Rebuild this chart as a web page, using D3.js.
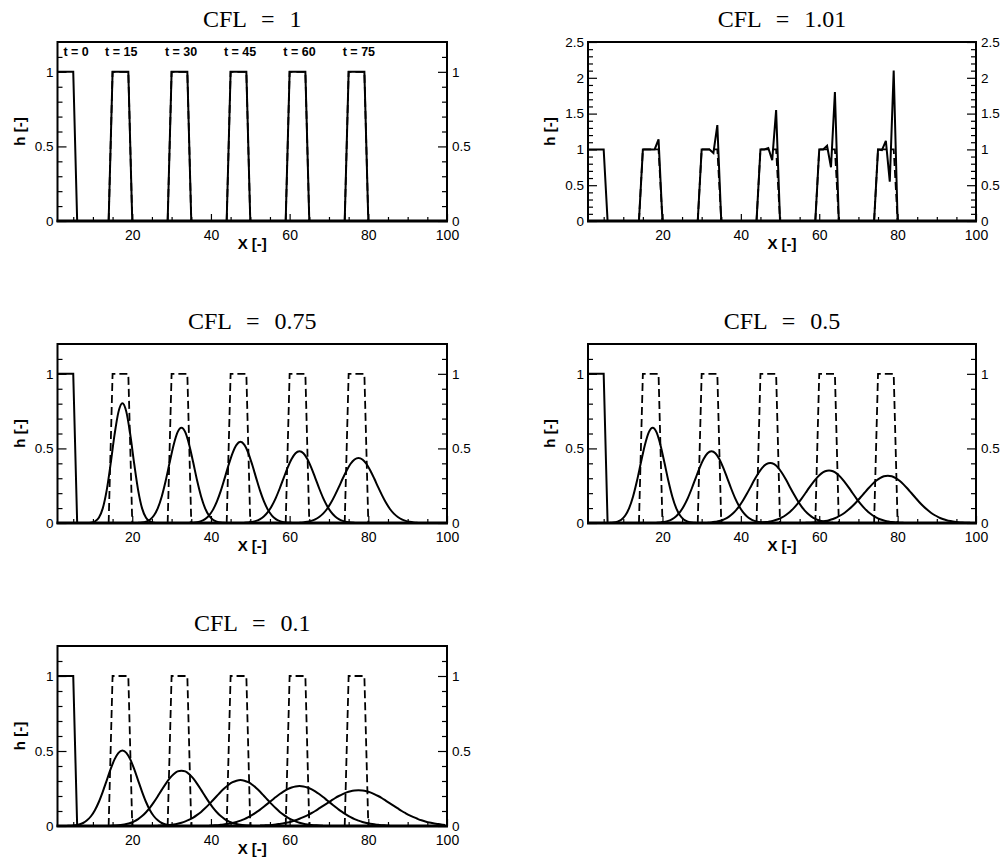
<!DOCTYPE html>
<html><head><meta charset="utf-8">
<script src="https://cdn.jsdelivr.net/npm/d3@7"></script>
<style>body{margin:0;background:#fff}</style>
</head><body>
<svg id="c" width="1005" height="867"></svg>
<script>
// ---------------- data ----------------
const cflLabels = ["CFL = 1", "CFL = 1.01", "CFL = 0.75", "CFL = 0.5", "CFL = 0.1"];
const timeLabels = ["t = 0", "t = 15", "t = 30", "t = 45", "t = 60", "t = 75"];
const timeLabelX = [2.5, 13.1, 28.3, 43.3, 58.4, 73.5];
const xTicksMajor = [20, 40, 60, 80, 100];
const xTicksMinor = [5, 10, 15, 25, 30, 35, 45, 50, 55, 65, 70, 75, 85, 90, 95];
const yTicksMajorSmall = [0, 0.5, 1];
const yTicksMinorSmall = [0.1, 0.2, 0.3, 0.4, 0.6, 0.7, 0.8, 0.9, 1.1];
const yTicksMajorBig = [0, 0.5, 1, 1.5, 2, 2.5];
const yTicksMinorBig = [0.1,0.2,0.3,0.4,0.6,0.7,0.8,0.9,1.1,1.2,1.3,1.4,1.6,1.7,1.8,1.9,2.1,2.2,2.3,2.4];

// initial condition (t = 0)
const initX = [1, 5, 6];
const initH = [1, 1, 0];

// exact solution pulses t = 15 .. 75
const exactX = [[14, 15, 19, 20], [29, 30, 34, 35], [44, 45, 49, 50], [59, 60, 64, 65], [74, 75, 79, 80]];
const exactH = [0, 1, 1, 0];

// CFL = 1.01 (x start of each pulse, unit spacing)
const cfl101Start = [14, 29, 44, 59, 74];
const cfl101_t15 = [0, 1, 1, 1, 1.0, 1.14, 0];
const cfl101_t30 = [0, 1, 1, 1, 0.95, 1.34, 0];
const cfl101_t45 = [0, 1, 1, 1.02, 0.85, 1.55, 0];
const cfl101_t60 = [0, 1, 1, 1.05, 0.75, 1.80, 0];
const cfl101_t75 = [0, 1, 0.99, 1.12, 0.55, 2.10, 0];

// CFL = 0.75 (x start of each curve, unit spacing)
const cfl075Start = [8.5, 21.5, 34.5, 48.5, 62.5];
const cfl075_t15 = [0.000,0.002,0.010,0.035,0.098,0.219,0.396,0.592,0.745,0.803,0.745,0.592,0.396,0.219,0.098,0.035,0.010,0.002,0.000];
const cfl075_t30 = [0.001,0.003,0.009,0.022,0.050,0.100,0.178,0.283,0.405,0.522,0.608,0.639,0.608,0.522,0.405,0.283,0.178,0.100,0.050,0.022,0.009,0.003,0.001];
const cfl075_t45 = [0.001,0.002,0.006,0.013,0.026,0.050,0.088,0.143,0.215,0.301,0.390,0.469,0.524,0.544,0.524,0.469,0.390,0.301,0.215,0.143,0.088,0.050,0.026,0.013,0.006,0.002,0.001];
const cfl075_t60 = [0.002,0.003,0.007,0.014,0.026,0.045,0.074,0.116,0.169,0.233,0.303,0.371,0.429,0.468,0.481,0.468,0.429,0.371,0.303,0.233,0.169,0.116,0.074,0.045,0.026,0.014,0.007,0.003,0.002];
const cfl075_t75 = [0.002,0.004,0.008,0.014,0.024,0.040,0.063,0.094,0.135,0.185,0.240,0.298,0.352,0.397,0.426,0.436,0.426,0.397,0.352,0.298,0.240,0.185,0.135,0.094,0.063,0.040,0.024,0.014,0.008,0.004,0.002];

// CFL = 0.5
const cfl05Start = [6.5, 18.5, 31.5, 43.5, 56.5];
const cfl05_t15 = [0.001,0.003,0.009,0.022,0.050,0.100,0.178,0.283,0.405,0.522,0.608,0.639,0.608,0.522,0.405,0.283,0.178,0.100,0.050,0.022,0.009,0.003,0.001];
const cfl05_t30 = [0.002,0.003,0.007,0.014,0.026,0.045,0.074,0.116,0.169,0.233,0.303,0.371,0.429,0.468,0.481,0.468,0.429,0.371,0.303,0.233,0.169,0.116,0.074,0.045,0.026,0.014,0.007,0.003,0.002];
const cfl05_t45 = [0.002,0.004,0.008,0.013,0.022,0.034,0.053,0.078,0.110,0.149,0.194,0.242,0.291,0.335,0.371,0.394,0.402,0.394,0.371,0.335,0.291,0.242,0.194,0.149,0.110,0.078,0.053,0.034,0.022,0.013,0.008,0.004,0.002];
const cfl05_t60 = [0.001,0.002,0.004,0.006,0.011,0.017,0.025,0.037,0.054,0.074,0.100,0.130,0.164,0.201,0.239,0.274,0.306,0.331,0.347,0.352,0.347,0.331,0.306,0.274,0.239,0.201,0.164,0.130,0.100,0.074,0.054,0.037,0.025,0.017,0.011,0.006,0.004,0.002,0.001];
const cfl05_t75 = [0.001,0.002,0.003,0.005,0.008,0.013,0.019,0.027,0.038,0.052,0.069,0.090,0.114,0.141,0.171,0.201,0.231,0.259,0.283,0.301,0.313,0.317,0.313,0.301,0.283,0.259,0.231,0.201,0.171,0.141,0.114,0.090,0.069,0.052,0.038,0.027,0.019,0.013,0.008,0.005,0.003,0.002,0.001];

// CFL = 0.1
const cfl01Start = [3.5, 14.5, 26.5, 39.5, 52.5];
const cfl01_t15 = [0.001,0.002,0.005,0.010,0.020,0.038,0.065,0.105,0.160,0.228,0.303,0.379,0.444,0.488,0.503,0.488,0.444,0.379,0.303,0.228,0.160,0.105,0.065,0.038,0.020,0.010,0.005,0.002,0.001];
const cfl01_t30 = [0.001,0.003,0.005,0.008,0.013,0.020,0.031,0.046,0.066,0.092,0.123,0.159,0.199,0.241,0.281,0.317,0.345,0.364,0.369,0.364,0.345,0.317,0.281,0.241,0.199,0.159,0.123,0.092,0.066,0.046,0.031,0.020,0.013,0.008,0.005,0.003,0.001];
const cfl01_t45 = [0.002,0.003,0.005,0.007,0.010,0.015,0.022,0.031,0.042,0.056,0.074,0.094,0.118,0.144,0.172,0.200,0.228,0.253,0.275,0.292,0.302,0.306,0.302,0.292,0.275,0.253,0.228,0.200,0.172,0.144,0.118,0.094,0.074,0.056,0.042,0.031,0.022,0.015,0.010,0.007,0.005,0.003,0.002];
const cfl01_t60 = [0.002,0.004,0.005,0.008,0.011,0.015,0.020,0.027,0.036,0.046,0.059,0.074,0.091,0.109,0.130,0.151,0.172,0.193,0.213,0.231,0.246,0.257,0.264,0.266,0.264,0.257,0.246,0.231,0.213,0.193,0.172,0.151,0.130,0.109,0.091,0.074,0.059,0.046,0.036,0.027,0.020,0.015,0.011,0.008,0.005,0.004,0.002];
const cfl01_t75 = [0.003,0.004,0.005,0.007,0.010,0.014,0.018,0.023,0.030,0.038,0.048,0.059,0.071,0.085,0.100,0.117,0.134,0.151,0.168,0.185,0.200,0.213,0.224,0.232,0.237,0.239,0.237,0.232,0.224,0.213,0.200,0.185,0.168,0.151,0.134,0.117,0.100,0.085,0.071,0.059,0.048,0.038,0.030,0.023,0.018,0.014,0.010,0.007];

// ---------------- drawing ----------------
const toPts = (start, vals) => vals.map((h, i) => [start + i, h]);
const zip = (xs, hs) => xs.map((x, i) => [x, hs[i]]);

const panels = [
  {title: cflLabels[0], x0: 57.5, x1: 447, y0: 42, y1: 221, yMax: 1.2, big: false, labels: true,
   solidLinear: exactX.map(xs => zip(xs, exactH)), solidSmooth: []},
  {title: cflLabels[1], x0: 588, x1: 976, y0: 42, y1: 221, yMax: 2.5, big: true, labels: false,
   solidLinear: [cfl101_t15, cfl101_t30, cfl101_t45, cfl101_t60, cfl101_t75].map((v, i) => toPts(cfl101Start[i], v)), solidSmooth: []},
  {title: cflLabels[2], x0: 57.5, x1: 447, y0: 344, y1: 523, yMax: 1.2, big: false, labels: false,
   solidLinear: [], solidSmooth: [cfl075_t15, cfl075_t30, cfl075_t45, cfl075_t60, cfl075_t75].map((v, i) => toPts(cfl075Start[i], v))},
  {title: cflLabels[3], x0: 588, x1: 976, y0: 344, y1: 523, yMax: 1.2, big: false, labels: false,
   solidLinear: [], solidSmooth: [cfl05_t15, cfl05_t30, cfl05_t45, cfl05_t60, cfl05_t75].map((v, i) => toPts(cfl05Start[i], v))},
  {title: cflLabels[4], x0: 57.5, x1: 447, y0: 646, y1: 826, yMax: 1.2, big: false, labels: false,
   solidLinear: [], solidSmooth: [cfl01_t15, cfl01_t30, cfl01_t45, cfl01_t60, cfl01_t75].map((v, i) => toPts(cfl01Start[i], v))}
];

const svg = d3.select("#c");
const SANS = "'Liberation Sans', Arial, Helvetica, sans-serif";
const SERIF = "'Liberation Serif', 'DejaVu Serif', serif";

panels.forEach((p, pi) => {
  const g = svg.append("g");
  const x = d3.scaleLinear().domain([1, 100]).range([p.x0, p.x1]);
  const y = d3.scaleLinear().domain([0, p.yMax]).range([p.y1, p.y0]);
  const yMaj = p.big ? yTicksMajorBig : yTicksMajorSmall;
  const yMin = p.big ? yTicksMinorBig : yTicksMinorSmall;

  const clipId = "clip" + pi;
  g.append("clipPath").attr("id", clipId).append("rect")
    .attr("x", p.x0).attr("y", p.y0 - 1).attr("width", p.x1 - p.x0).attr("height", p.y1 - p.y0 + 1);

  const lin = d3.line().x(d => x(d[0])).y(d => y(d[1]));
  const smooth = d3.line().x(d => x(d[0])).y(d => y(d[1])).curve(d3.curveMonotoneX);
  const data = g.append("g").attr("clip-path", `url(#${clipId})`);

  // exact (dashed)
  exactX.forEach(xs => {
    data.append("path").attr("d", lin(zip(xs, exactH)))
      .attr("fill", "none").attr("stroke", "#000").attr("stroke-width", 1.8)
      .attr("stroke-dasharray", "8,4").attr("stroke-linejoin", "miter");
  });
  // initial (solid)
  data.append("path").attr("d", lin(zip(initX, initH)))
    .attr("fill", "none").attr("stroke", "#000").attr("stroke-width", 2);
  p.solidLinear.forEach(pts => {
    data.append("path").attr("d", lin(pts))
      .attr("fill", "none").attr("stroke", "#000").attr("stroke-width", 2).attr("stroke-linejoin", "miter");
  });
  p.solidSmooth.forEach(pts => {
    data.append("path").attr("d", smooth(pts))
      .attr("fill", "none").attr("stroke", "#000").attr("stroke-width", 2);
  });

  // axes
  const styleAxis = (sel, fs) => {
    sel.select(".domain").remove();
    sel.attr("font-family", SANS).attr("font-size", fs);
    sel.selectAll(".tick line").attr("stroke-width", 1.2);
    sel.selectAll(".tick text").attr("fill", "#000");
  };
  g.append("g").attr("transform", `translate(0,${p.y1})`)
    .call(d3.axisBottom(x).tickValues(xTicksMajor).tickSize(-7).tickPadding(9).tickFormat(d3.format("d")))
    .call(s => styleAxis(s, 14));
  g.append("g").attr("transform", `translate(0,${p.y1})`)
    .call(d3.axisBottom(x).tickValues(xTicksMinor).tickSize(-4).tickFormat(""))
    .call(s => styleAxis(s, 14));
  g.append("g").attr("transform", `translate(${p.x0},0)`)
    .call(d3.axisLeft(y).tickValues(yMaj).tickSize(-9).tickPadding(4).tickFormat(d3.format("~g")))
    .call(s => styleAxis(s, 13.5));
  g.append("g").attr("transform", `translate(${p.x0},0)`)
    .call(d3.axisLeft(y).tickValues(yMin).tickSize(-5).tickFormat(""))
    .call(s => styleAxis(s, 13.5));
  g.append("g").attr("transform", `translate(${p.x1},0)`)
    .call(d3.axisRight(y).tickValues(yMaj).tickSize(-9).tickPadding(5).tickFormat(d3.format("~g")))
    .call(s => styleAxis(s, 13.5));
  g.append("g").attr("transform", `translate(${p.x1},0)`)
    .call(d3.axisRight(y).tickValues(yMin).tickSize(-5).tickFormat(""))
    .call(s => styleAxis(s, 13.5));

  // frame
  g.append("rect").attr("x", p.x0).attr("y", p.y0).attr("width", p.x1 - p.x0).attr("height", p.y1 - p.y0)
    .attr("fill", "none").attr("stroke", "#000").attr("stroke-width", 2);
  g.append("line").attr("x1", p.x0 - 1).attr("x2", p.x1 + 1).attr("y1", p.y1).attr("y2", p.y1)
    .attr("stroke", "#000").attr("stroke-width", 3);

  // titles and axis labels
  g.append("text").attr("x", (p.x0 + p.x1) / 2).attr("y", p.y0 - 15)
    .attr("text-anchor", "middle").attr("font-family", SERIF).attr("font-size", 24)
    .attr("word-spacing", 9).text(p.title);
  g.append("text").attr("x", (p.x0 + p.x1) / 2).attr("y", p.y1 + 28)
    .attr("text-anchor", "middle").attr("font-family", SANS).attr("font-weight", "bold")
    .attr("font-size", 15).text("X [-]");
  g.append("text").attr("transform", `translate(${p.x0 - 33},${(p.y0 + p.y1) / 2}) rotate(-90)`)
    .attr("text-anchor", "middle").attr("font-family", SANS).attr("font-weight", "bold")
    .attr("font-size", 15).text("h [-]");

  if (p.labels) {
    timeLabels.forEach((t, i) => {
      g.append("text").attr("x", x(timeLabelX[i])).attr("y", p.y0 + 14)
        .attr("font-family", SANS).attr("font-weight", "bold").attr("font-size", 12.5).text(t);
    });
  }
});
</script>
</body></html>
